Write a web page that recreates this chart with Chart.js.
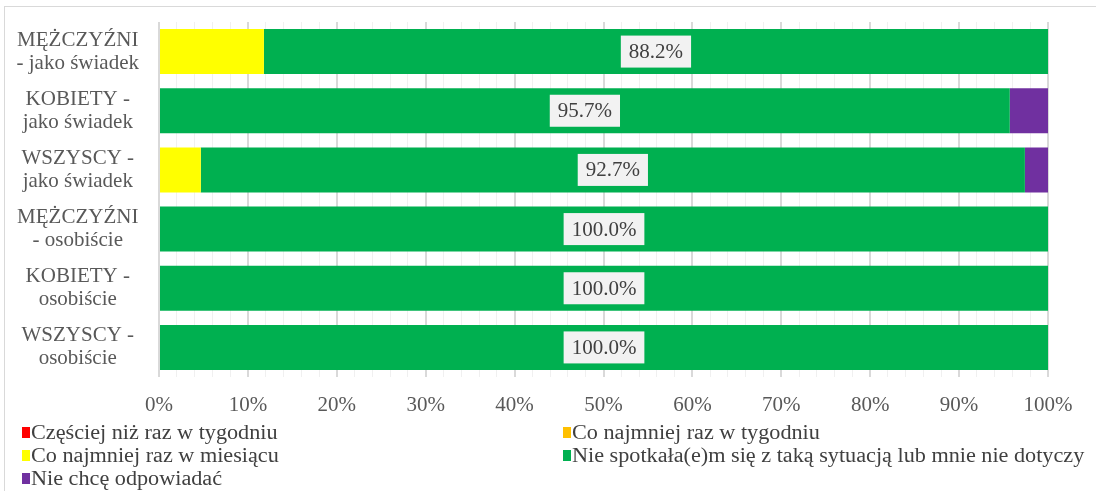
<!DOCTYPE html>
<html>
<head>
<meta charset="utf-8">
<script src="https://cdn.jsdelivr.net/npm/chart.js@4/dist/chart.umd.min.js"></script>
<style>
  html, body { margin: 0; padding: 0; background: #fff; }
  #wrap { position: relative; width: 1096px; height: 491px; }
</style>
</head>
<body>
<div id="wrap"><canvas id="chart" width="1096" height="491"></canvas></div>
<script>
// kategorie (od góry)
const categories = [
  ['MĘŻCZYŹNI', '- jako świadek'],
  ['KOBIETY -', 'jako świadek'],
  ['WSZYSCY -', 'jako świadek'],
  ['MĘŻCZYŹNI', '- osobiście'],
  ['KOBIETY -', 'osobiście'],
  ['WSZYSCY -', 'osobiście']
];

// serie (%)
const czesciejNizRazWTygodniu = [0, 0, 0, 0, 0, 0];
const coNajmniejRazWTygodniu = [0, 0, 0, 0, 0, 0];
const coNajmniejRazWMiesiacu = [11.8, 0, 4.7, 0, 0, 0];
const nieSpotkalam = [88.2, 95.7, 92.7, 100, 100, 100];
const nieChceOdpowiadac = [0, 4.3, 2.6, 0, 0, 0];

const xTicks = [0, 10, 20, 30, 40, 50, 60, 70, 80, 90, 100];

const serif = "'Liberation Serif', 'Times New Roman', serif";

// ramka wykresu
const framePlugin = {
  id: 'frame',
  beforeDraw(chart) {
    const ctx = chart.ctx;
    ctx.save();
    ctx.strokeStyle = '#D9D9D9';
    ctx.lineWidth = 1;
    ctx.strokeRect(4.5, 6.5, 1200, 600);
    ctx.restore();
  }
};

// etykiety wartości na zielonej serii
const labelPlugin = {
  id: 'valueLabels',
  afterDatasetsDraw(chart) {
    const ctx = chart.ctx;
    const dsIndex = 3;
    const meta = chart.getDatasetMeta(dsIndex);
    ctx.save();
    ctx.font = '21px ' + serif;
    ctx.textAlign = 'center';
    ctx.textBaseline = 'middle';
    meta.data.forEach((bar, i) => {
      const v = chart.data.datasets[dsIndex].data[i];
      if (!v) return;
      const text = v.toFixed(1) + '%';
      const cx = (bar.x + bar.base) / 2;
      const cy = bar.y;
      const w = ctx.measureText(text).width + 16;
      const h = 32;
      ctx.fillStyle = '#F2F2F2';
      ctx.fillRect(cx - w / 2, cy - h / 2, w, h);
      ctx.fillStyle = '#404040';
      ctx.fillText(text, cx, cy + 1);
    });
    ctx.restore();
  }
};

// legenda w dwóch kolumnach
const legendPlugin = {
  id: 'twoColLegend',
  afterDraw(chart) {
    const ctx = chart.ctx;
    const cols = [22, 563];
    const rows = [433, 456, 479];
    ctx.save();
    ctx.font = '20px ' + serif;
    ctx.textBaseline = 'middle';
    ctx.textAlign = 'left';
    chart.data.datasets.forEach((ds, i) => {
      const x = cols[i % 2];
      const y = rows[Math.floor(i / 2)];
      ctx.fillStyle = ds.backgroundColor;
      ctx.fillRect(x, y - 6, 8, 11);
      ctx.fillStyle = '#404040';
      ctx.save();
      ctx.translate(x + 9, y + 1);
      ctx.scale(1.11, 1);
      ctx.fillText(ds.label, 0, 0);
      ctx.restore();
    });
    ctx.restore();
  }
};

new Chart(document.getElementById('chart'), {
  type: 'bar',
  data: {
    labels: categories,
    datasets: [
      { label: 'Częściej niż raz w tygodniu', data: czesciejNizRazWTygodniu, backgroundColor: '#FF0000' },
      { label: 'Co najmniej raz w tygodniu', data: coNajmniejRazWTygodniu, backgroundColor: '#FFC000' },
      { label: 'Co najmniej raz w miesiącu', data: coNajmniejRazWMiesiacu, backgroundColor: '#FFFF00' },
      { label: 'Nie spotkała(e)m się z taką sytuacją lub mnie nie dotyczy', data: nieSpotkalam, backgroundColor: '#00B050' },
      { label: 'Nie chcę odpowiadać', data: nieChceOdpowiadac, backgroundColor: '#7030A0' }
    ]
  },
  options: {
    indexAxis: 'y',
    responsive: false,
    animation: false,
    layout: { padding: { top: 22, right: 48, left: 0, bottom: 0 } },
    datasets: {
      bar: { categoryPercentage: 1, barPercentage: 0.76, borderWidth: 0 }
    },
    plugins: {
      legend: { display: false },
      tooltip: { enabled: false }
    },
    scales: {
      x: {
        stacked: true,
        min: 0,
        max: 100,
        afterFit: (scale) => { scale.height = 114; },
        afterBuildTicks: (scale) => {
          const t = [];
          for (let v = 0; v <= 100; v += 2) t.push({ value: v });
          scale.ticks = t;
        },
        ticks: {
          autoSkip: false,
          maxRotation: 0,
          padding: 16,
          color: '#595959',
          font: { family: serif, size: 21 },
          callback: (v) => xTicks.includes(v) ? v + '%' : ''
        },
        grid: {
          drawTicks: false,
          color: (c) => (c.tick && c.tick.value % 10 === 0) ? '#D9D9D9' : '#F0F0F0',
          lineWidth: (c) => (c.tick && c.tick.value % 10 === 0) ? 2 : 1
        },
        border: { display: false }
      },
      y: {
        stacked: true,
        afterFit: (scale) => {
          scale.width = 159;
          scale.paddingTop = 0;
          scale.paddingBottom = 0;
        },
        ticks: {
          crossAlign: 'center',
          padding: 12,
          color: '#595959',
          font: { family: serif, size: 21, lineHeight: 1.1 }
        },
        grid: { display: false },
        border: { display: false }
      }
    }
  },
  plugins: [framePlugin, labelPlugin, legendPlugin]
});
</script>
</body>
</html>
